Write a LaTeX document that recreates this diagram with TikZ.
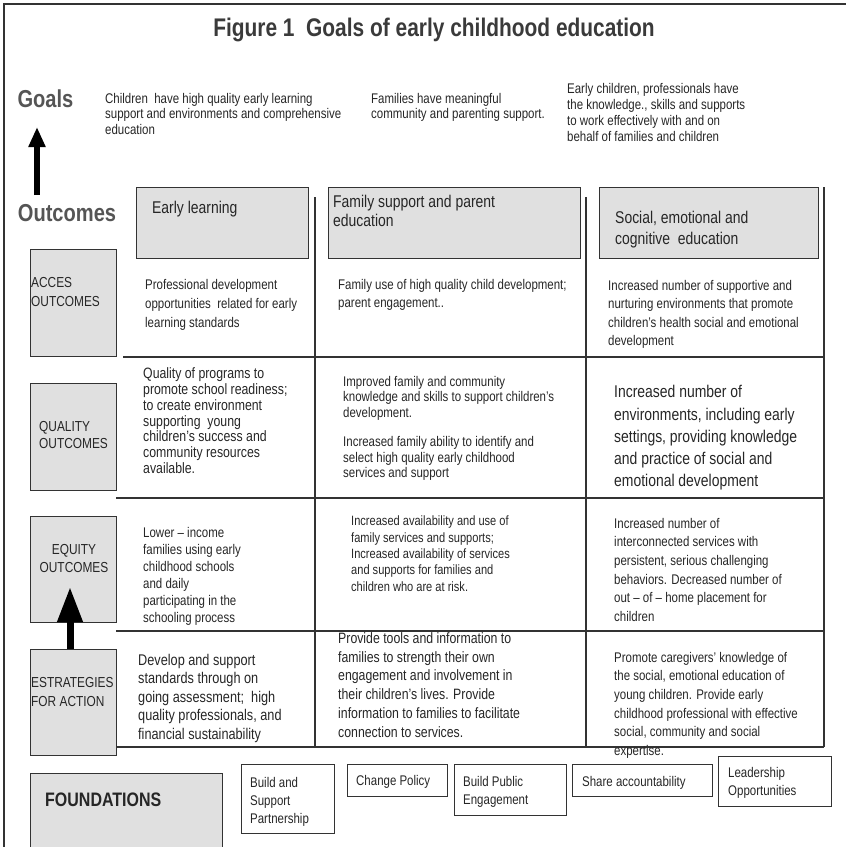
\documentclass[tikz,border=0pt]{standalone}
\usepackage{fontspec}
\setmainfont{Liberation Sans}[FakeStretch=0.82]
\usetikzlibrary{arrows.meta}
\definecolor{txtc}{HTML}{262626}
\definecolor{boxfill}{HTML}{E0E0E0}
\definecolor{edgec}{HTML}{333333}
\definecolor{headc}{HTML}{3A3A3A}
\definecolor{lblc}{HTML}{555555}
\newcommand\myfs[2]{\fontsize{#1}{#2}\selectfont}
\begin{document}
\begin{tikzpicture}[x=1pt,y=-1pt,
  txt/.style={anchor=north west, inner sep=0pt, align=left, text=txtc},
  gbox/.style={draw=edgec, fill=boxfill, line width=1pt, inner sep=0pt},
  wbox/.style={draw=edgec, line width=0.9pt, inner sep=0pt},
  rule/.style={draw=edgec, line width=1.1pt}]
\useasboundingbox (0,0) rectangle (846,847);
% frame
\draw[edgec, line width=1.2pt] (4,850) -- (4,4) -- (850,4);
% title
\node[inner sep=0pt, text=headc, font=\bfseries\myfs{25.5}{30}] (title) at (434,30) {Figure 1\ \ Goals of early childhood education};
% side labels
\node[inner sep=0pt, text=lblc, font=\bfseries\myfs{24.5}{28}] (goals) at (45.5,99) {Goals};
\node[inner sep=0pt, text=lblc, font=\bfseries\myfs{24.5}{28}] (outc) at (67,213) {Outcomes};
% goal texts
\node[txt, font=\myfs{14}{15.5}] (g1) at (105,92.7) {Children\ \ have high quality early learning\\support and environments and comprehensive\\education};
\node[txt, font=\myfs{14}{15.5}] (g2) at (371,92.7) {Families have meaningful\\community and parenting support.};
\node[txt, font=\myfs{14}{16}] (g3) at (567,82.7) {Early children, professionals have\\the knowledge., skills and supports\\to work effectively with and on\\behalf of families and children};
% arrow outcomes -> goals
\coordinate (a1s) at (37,195);
\coordinate (a1e) at (37,127);
\draw[line width=5.5pt, -{Triangle[width=16pt,length=20pt]}] (a1s) -- (a1e);
% header boxes
\node[gbox, minimum width=172pt, minimum height=71pt] (hb1) at (222,222.5) {};
\node[gbox, minimum width=252pt, minimum height=71pt] (hb2) at (454,222.5) {};
\node[gbox, minimum width=219pt, minimum height=71pt] (hb3) at (708.5,222.5) {};
\node[txt, font=\myfs{17}{19.5}] (t1) at (152,200.6) {Early learning};
\node[txt, font=\myfs{17}{19.5}] (t2) at (333,194.5) {Family support and parent\\education};
\node[txt, font=\myfs{17}{21.5}] (t3) at (615,210.6) {Social, emotional and\\cognitive\ \ education};
% table rules
\draw[rule] (315,197) -- (315,747);
\draw[rule] (586,197) -- (586,747);
\draw[rule] (824,187) -- (824,747);
\draw[rule] (123,357) -- (824,357);
\draw[rule] (116,498) -- (824,498);
\draw[rule] (116,631) -- (824,631);
\draw[rule] (116,747) -- (824,747);
% left boxes
\node[gbox, minimum width=86pt, minimum height=107pt] (lb1) at (73,302.5) {};
\node[gbox, minimum width=86pt, minimum height=107pt] (lb2) at (73,436.5) {};
\node[gbox, minimum width=86pt, minimum height=106pt] (lb3) at (73,569) {};
\node[gbox, minimum width=86pt, minimum height=106pt] (lb4) at (73,702) {};
\node[txt, font=\myfs{14.5}{19}] (l1) at (31,277.3) {ACCES\\OUTCOMES};
\node[txt, font=\myfs{14.5}{17}] (l2) at (39,421.3) {QUALITY\\OUTCOMES};
\node[txt, anchor=north, align=center, font=\myfs{14.5}{18}] (l3) at (74,544.3) {EQUITY\\OUTCOMES};
\node[txt, font=\myfs{14.5}{19}] (l4) at (31,677.3) {ESTRATEGIES\\FOR ACTION};
% arrow strategies -> equity
\coordinate (a2s) at (70,649);
\coordinate (a2e) at (70,587);
\draw[line width=7pt, -{Triangle[width=24pt,length=35pt]}] (a2s) -- (a2e);
% row 1
\node[txt, font=\myfs{14}{19}] (r1c1) at (145,278.7) {Professional development\\opportunities\ \ related for early\\learning standards};
\node[txt, font=\myfs{14}{18}] (r1c2) at (338,278.7) {Family use of high quality child development;\\parent engagement..};
\node[txt, font=\myfs{14}{18.5}] (r1c3) at (608,279.7) {Increased number of supportive and\\nurturing environments that promote\\children's health social and emotional\\development};
% row 2
\node[txt, font=\myfs{15}{15.9}] (r2c1) at (143,367.3) {Quality of programs to\\promote school readiness;\\to create environment\\supporting\ \ young\\children’s success and\\community resources\\available.};
\node[txt, font=\myfs{14}{15.7}] (r2c2a) at (343,375.7) {Improved family and community\\knowledge and skills to support children’s\\development.};
\node[txt, font=\myfs{14}{15.7}] (r2c2b) at (343,436) {Increased family ability to identify and\\select high quality early childhood\\services and support};
\node[txt, font=\myfs{17}{22.3}] (r2c3) at (614,385.2) {Increased number of\\environments, including early\\settings, providing knowledge\\and practice of social and\\emotional development};
% row 3
\node[txt, font=\myfs{14}{17}] (r3c1) at (143,526.7) {Lower – income\\families using early\\childhood schools\\and daily\\participating in the\\schooling process};
\node[txt, font=\myfs{13.5}{16.3}] (r3c2) at (351,515.9) {Increased availability and use of\\family services and supports;\\Increased availability of services\\and supports for families and\\children who are at risk.};
\node[txt, font=\myfs{14}{18.7}] (r3c3) at (614,517.7) {Increased number of\\interconnected services with\\persistent, serious challenging\\behaviors. Decreased number of\\out – of – home placement for\\children};
% row 4
\node[txt, font=\myfs{15.5}{18.5}] (r4c1) at (138,654) {Develop and support\\standards through on\\going assessment;\ \ high\\quality professionals, and\\financial sustainability};
\node[txt, font=\myfs{15}{18.8}] (r4c2) at (338,632.3) {Provide tools and information to\\families to strength their own\\engagement and involvement in\\their children’s lives. Provide\\information to families to facilitate\\connection to services.};
\node[txt, font=\myfs{14}{18.7}] (r4c3) at (614,651.7) {Promote caregivers’ knowledge of\\the social, emotional education of\\young children. Provide early\\childhood professional with effective\\social, community and social\\expertise.};
% foundations
\node[gbox, minimum width=192pt, minimum height=97pt] (fnd) at (126,821.5) {};
\node[txt, font=\bfseries\myfs{19.5}{22}] (fndt) at (45,793) {FOUNDATIONS};
\node[wbox, minimum width=93pt, minimum height=69pt] (bb1) at (287.5,798.5) {};
\node[wbox, minimum width=100pt, minimum height=32pt] (bb2) at (397,780) {};
\node[wbox, minimum width=112pt, minimum height=51pt] (bb3) at (510,789.5) {};
\node[wbox, minimum width=140pt, minimum height=32pt] (bb4) at (642,780) {};
\node[wbox, minimum width=113pt, minimum height=50pt] (bb5) at (774.5,781) {};
\node[txt, font=\myfs{14}{18}] (bt1) at (250,776.7) {Build and\\Support\\Partnership};
\node[txt, font=\myfs{14}{18}] (bt2) at (356,774.7) {Change Policy};
\node[txt, font=\myfs{14}{18}] (bt3) at (463,775.7) {Build Public\\Engagement};
\node[txt, font=\myfs{14}{18}] (bt4) at (582,775.7) {Share accountability};
\node[txt, font=\myfs{14}{18}] (bt5) at (728,766.7) {Leadership\\Opportunities};
\end{tikzpicture}
\end{document}
